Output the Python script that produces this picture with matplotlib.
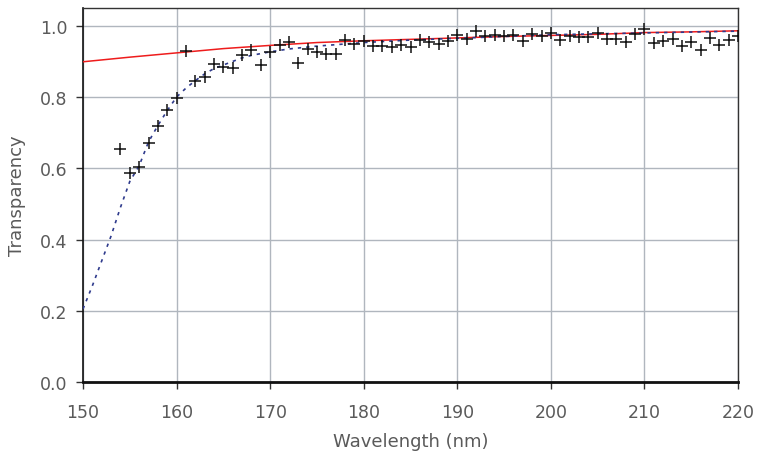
import matplotlib.pyplot as plt

# measured points (+)
wl_meas = list(range(154, 221))
t_meas = [0.654, 0.587, 0.604, 0.671, 0.719, 0.764, 0.798, 0.930, 0.845, 0.857,
          0.893, 0.885, 0.882, 0.918, 0.933, 0.890, 0.927, 0.947, 0.955, 0.896,
          0.935, 0.927, 0.921, 0.921, 0.961, 0.949, 0.958, 0.944, 0.944, 0.941,
          0.947, 0.941, 0.961, 0.955, 0.949, 0.958, 0.975, 0.963, 0.986, 0.972,
          0.975, 0.972, 0.975, 0.958, 0.978, 0.972, 0.980, 0.961, 0.972, 0.969,
          0.969, 0.980, 0.963, 0.963, 0.955, 0.978, 0.992, 0.952, 0.958, 0.963,
          0.944, 0.955, 0.933, 0.966, 0.947, 0.961, 0.972]

# red solid curve
wl_red = [150, 155, 160, 165, 170, 175, 180, 185, 190, 195, 200, 205, 210, 215, 220]
t_red = [0.899, 0.912, 0.924, 0.936, 0.945, 0.953, 0.958, 0.962, 0.966, 0.970,
         0.973, 0.976, 0.981, 0.983, 0.986]

# blue dashed fit
wl_fit = [150, 151, 152, 153, 154, 155, 156, 157, 158, 159, 160, 161, 162, 163,
          164, 165, 166, 167, 168, 169, 170, 172, 175, 180, 185, 190, 195, 200,
          210, 220]
t_fit = [0.205, 0.27, 0.34, 0.41, 0.49, 0.563, 0.607, 0.674, 0.72, 0.762, 0.80,
         0.825, 0.846, 0.865, 0.88, 0.89, 0.90, 0.91, 0.917, 0.922, 0.927, 0.935,
         0.943, 0.953, 0.960, 0.965, 0.970, 0.975, 0.980, 0.985]

txt = "#5a5a5a"
plt.rcParams['font.family'] = ['DejaVu Sans']

fig = plt.figure(figsize=(7.59, 4.56), dpi=100)
ax = fig.add_axes([83 / 759, (456 - 383) / 456, (738 - 83) / 759, (383 - 9) / 456])

ax.plot(wl_red, t_red, color="#ee1c1c", lw=1.1, zorder=3)
ax.plot(wl_fit, t_fit, color="#2e3a8c", lw=1.2, dashes=(2, 3), zorder=4)
ax.plot(wl_meas, t_meas, "+", color="#111111", ms=8.5, mew=1.1, zorder=5)

ax.set_xlim(150, 220)
ax.set_ylim(0, 1.05)
ax.set_xticks(range(150, 221, 10))
ax.set_yticks([0.0, 0.2, 0.4, 0.6, 0.8, 1.0])
ax.set_yticklabels([f"{v:.1f}" for v in [0.0, 0.2, 0.4, 0.6, 0.8, 1.0]])
ax.grid(True, color="#b0b6be", lw=1)
ax.set_axisbelow(True)

for s in ["top", "right"]:
    ax.spines[s].set_color("#333333")
    ax.spines[s].set_linewidth(1)
ax.spines["left"].set_color("#111111")
ax.spines["left"].set_linewidth(1.2)
ax.spines["bottom"].set_color("#111111")
ax.spines["bottom"].set_linewidth(2)

ax.tick_params(axis="both", direction="out", length=5, width=1, color="#333333",
               labelcolor=txt, labelsize=12.5)
ax.tick_params(axis="x", pad=10)
ax.tick_params(axis="y", pad=6)

ax.set_xlabel("Wavelength (nm)", fontsize=13, color=txt, labelpad=8)
ax.set_ylabel("Transparency", fontsize=13, color=txt, labelpad=10)

plt.savefig("out.png", dpi=100)
